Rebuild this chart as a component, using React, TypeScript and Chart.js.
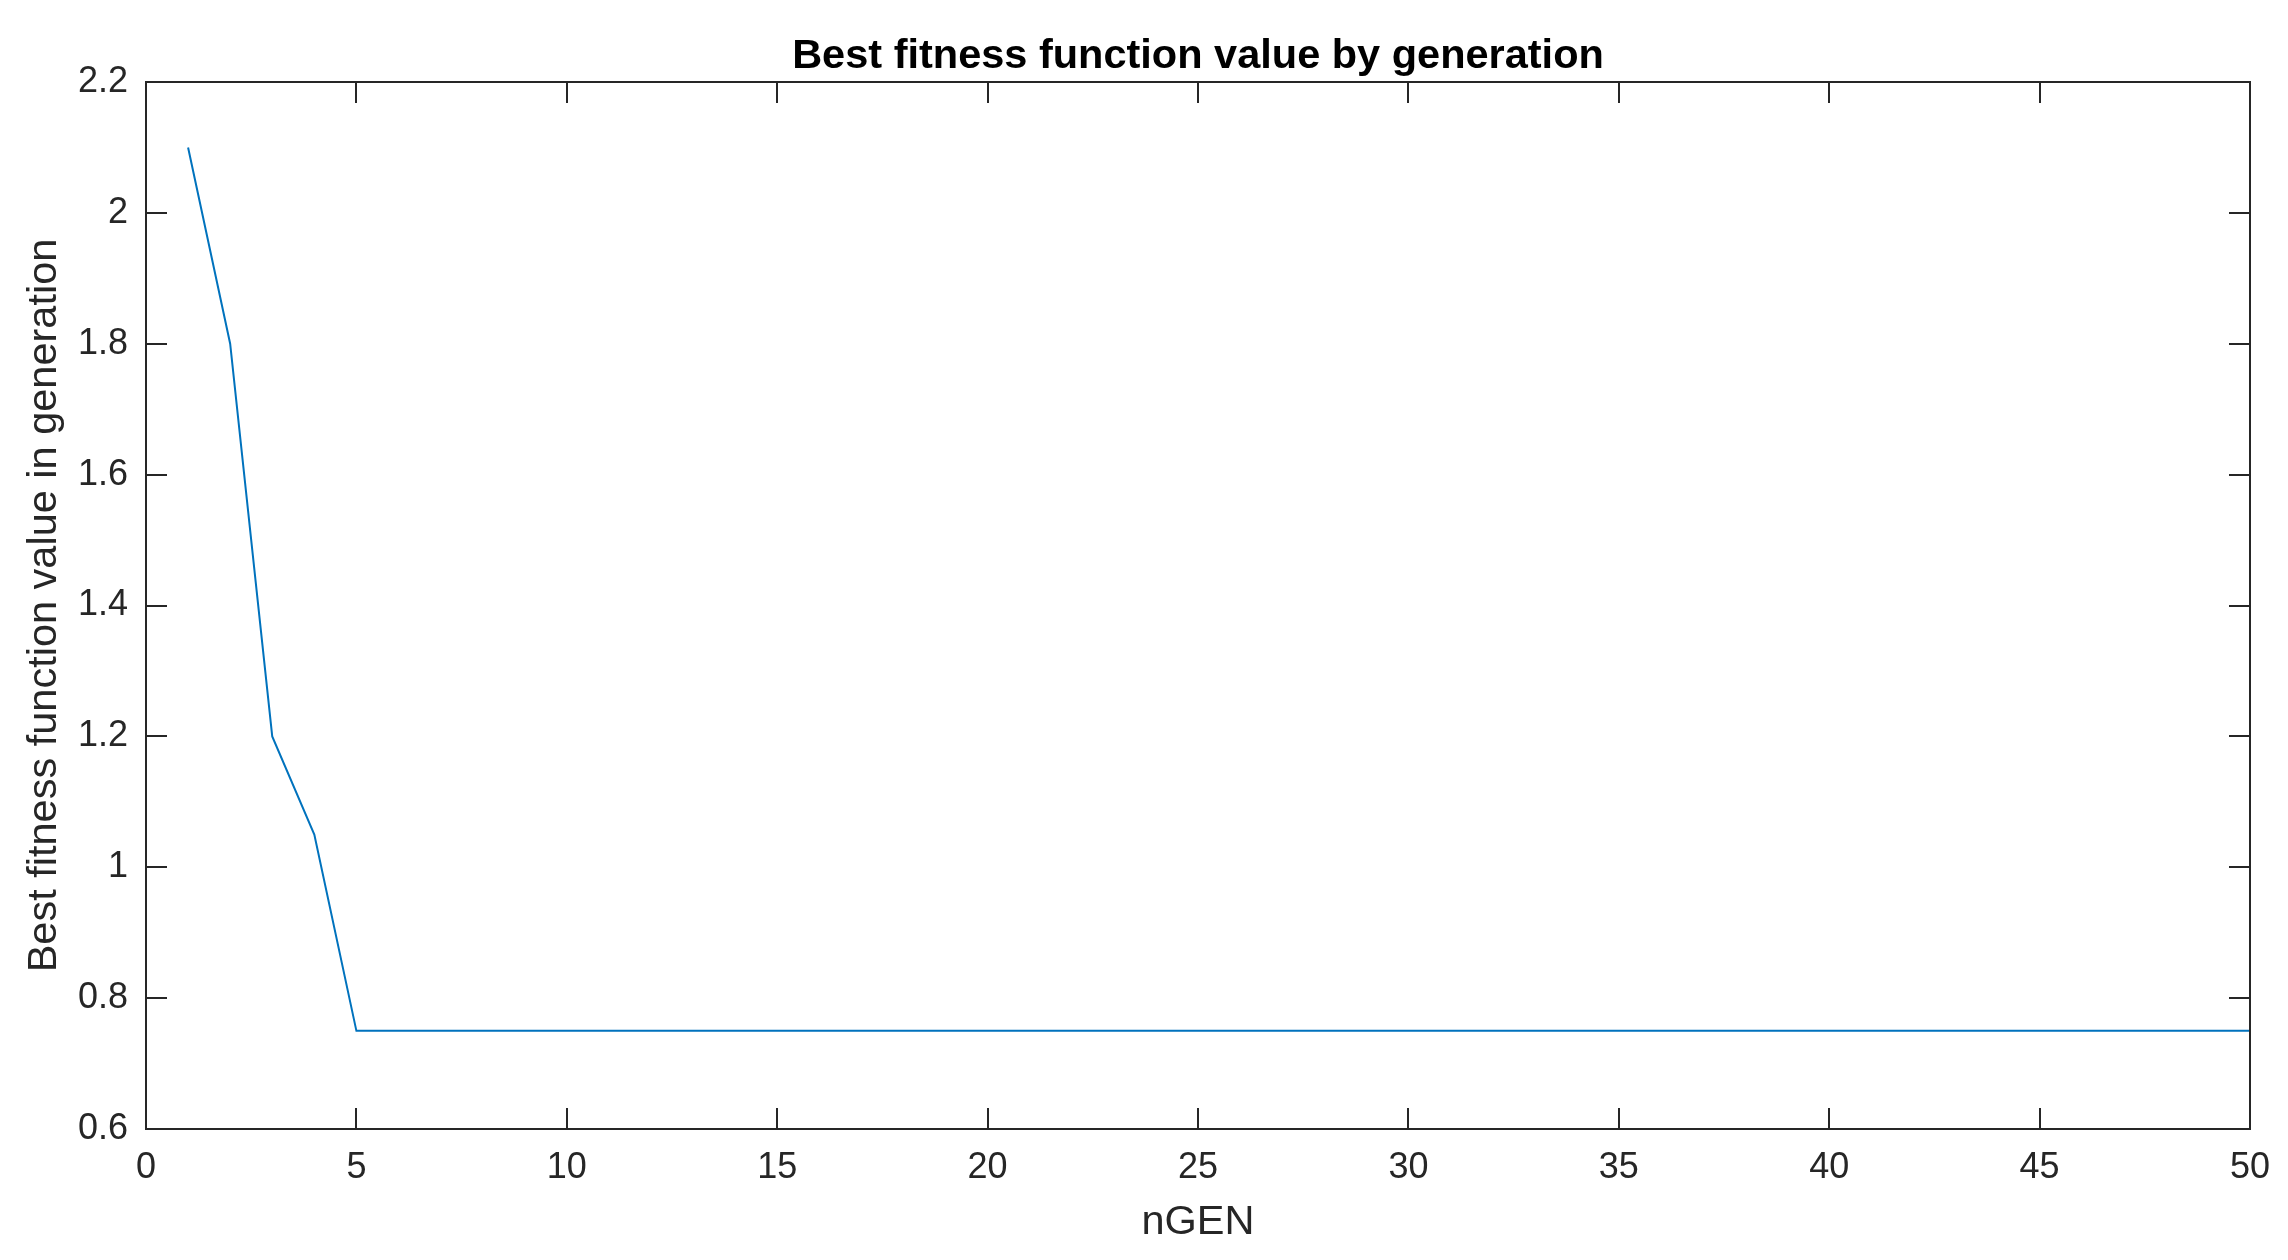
import React, { useEffect, useRef } from "react";
import { Chart, registerables } from "chart.js";

Chart.register(...registerables);

const generations: number[] = [
  1, 2, 3, 4, 5, 6, 7, 8, 9, 10,
  11, 12, 13, 14, 15, 16, 17, 18, 19, 20,
  21, 22, 23, 24, 25, 26, 27, 28, 29, 30,
  31, 32, 33, 34, 35, 36, 37, 38, 39, 40,
  41, 42, 43, 44, 45, 46, 47, 48, 49, 50,
];

const bestFitness: number[] = [
  2.1, 1.8, 1.2, 1.05, 0.75, 0.75, 0.75, 0.75, 0.75, 0.75,
  0.75, 0.75, 0.75, 0.75, 0.75, 0.75, 0.75, 0.75, 0.75, 0.75,
  0.75, 0.75, 0.75, 0.75, 0.75, 0.75, 0.75, 0.75, 0.75, 0.75,
  0.75, 0.75, 0.75, 0.75, 0.75, 0.75, 0.75, 0.75, 0.75, 0.75,
  0.75, 0.75, 0.75, 0.75, 0.75, 0.75, 0.75, 0.75, 0.75, 0.75,
];

const xTicks: number[] = [0, 5, 10, 15, 20, 25, 30, 35, 40, 45, 50];
const yTicks: number[] = [0.6, 0.8, 1, 1.2, 1.4, 1.6, 1.8, 2, 2.2];

const titleText = "Best fitness function value by generation";
const xLabel = "nGEN";
const yLabel = "Best fitness function value in generation";

const FONT = '"Liberation Sans", Arial, Helvetica, sans-serif';
const AXIS_COLOR = "#262626";
const LINE_COLOR = "#0072BD";

const boxTicksPlugin = {
  id: "boxTicks",
  afterDatasetsDraw(chart: any) {
    const { ctx, chartArea, scales } = chart;
    const { left, right, top, bottom } = chartArea;
    const len = 21;
    ctx.save();
    ctx.strokeStyle = AXIS_COLOR;
    ctx.lineWidth = 2;
    ctx.beginPath();
    for (const v of xTicks) {
      const px = Math.round(scales.x.getPixelForValue(v));
      if (px <= left + 1 || px >= right - 1) continue;
      ctx.moveTo(px, bottom);
      ctx.lineTo(px, bottom - len);
      ctx.moveTo(px, top);
      ctx.lineTo(px, top + len);
    }
    for (const v of yTicks) {
      const py = Math.round(scales.y.getPixelForValue(v));
      if (py <= top + 1 || py >= bottom - 1) continue;
      ctx.moveTo(left, py);
      ctx.lineTo(left + len, py);
      ctx.moveTo(right, py);
      ctx.lineTo(right - len, py);
    }
    ctx.stroke();
    ctx.beginPath();
    ctx.rect(left, top, right - left, bottom - top);
    ctx.stroke();
    ctx.restore();
  },
};

export default function App() {
  const canvasRef = useRef<HTMLCanvasElement | null>(null);

  useEffect(() => {
    if (!canvasRef.current) return;
    const points = generations.map((g, i) => ({ x: g, y: bestFitness[i] }));
    const chart = new Chart(canvasRef.current, {
      type: "line",
      data: {
        datasets: [
          {
            data: points,
            borderColor: LINE_COLOR,
            borderWidth: 2,
            pointRadius: 0,
            tension: 0,
            fill: false,
          },
        ],
      },
      options: {
        animation: false,
        responsive: false,
        maintainAspectRatio: false,
        layout: { padding: { left: 0, right: 38, top: 0, bottom: 0 } },
        plugins: {
          legend: { display: false },
          tooltip: { enabled: false },
          title: {
            display: true,
            text: titleText,
            fullSize: false,
            color: "#000000",
            font: { family: FONT, size: 41.5, weight: "bold", lineHeight: 1.2 },
            padding: { top: 32, bottom: 0.2 },
          },
        },
        scales: {
          x: {
            type: "linear",
            min: 0,
            max: 50,
            afterBuildTicks: (scale: any) => {
              scale.ticks = xTicks.map((v) => ({ value: v }));
            },
            afterFit: (scale: any) => {
              scale.height = 131;
            },
            grid: { display: false, drawTicks: false },
            border: { display: false },
            ticks: {
              color: AXIS_COLOR,
              font: { family: FONT, size: 36, lineHeight: 1.2 },
              padding: 17,
              maxRotation: 0,
              autoSkip: false,
              callback: (v: any) => String(parseFloat(Number(v).toFixed(2))),
            },
            title: {
              display: true,
              text: xLabel,
              color: AXIS_COLOR,
              font: { family: FONT, size: 41.5, lineHeight: 1.2 },
              padding: { top: 0, bottom: 13 },
            },
          },
          y: {
            type: "linear",
            min: 0.6,
            max: 2.2,
            afterBuildTicks: (scale: any) => {
              scale.ticks = yTicks.map((v) => ({ value: v }));
            },
            afterFit: (scale: any) => {
              scale.width = 146;
            },
            grid: { display: false, drawTicks: false },
            border: { display: false },
            ticks: {
              color: AXIS_COLOR,
              font: { family: FONT, size: 36, lineHeight: 1.2 },
              padding: 18,
              autoSkip: false,
              callback: (v: any) => String(parseFloat(Number(v).toFixed(2))),
            },
            title: {
              display: true,
              text: yLabel,
              color: AXIS_COLOR,
              font: { family: FONT, size: 41.5, lineHeight: 1.2 },
              padding: { top: 20, bottom: 0 },
            },
          },
        },
      },
      plugins: [boxTicksPlugin],
    } as any);
    return () => chart.destroy();
  }, []);

  return (
    <div style={{ position: "fixed", left: 0, top: 0, width: 2288, height: 1260, background: "#ffffff" }}>
      <canvas ref={canvasRef} width={2288} height={1260} style={{ display: "block", width: 2288, height: 1260 }} />
    </div>
  );
}
